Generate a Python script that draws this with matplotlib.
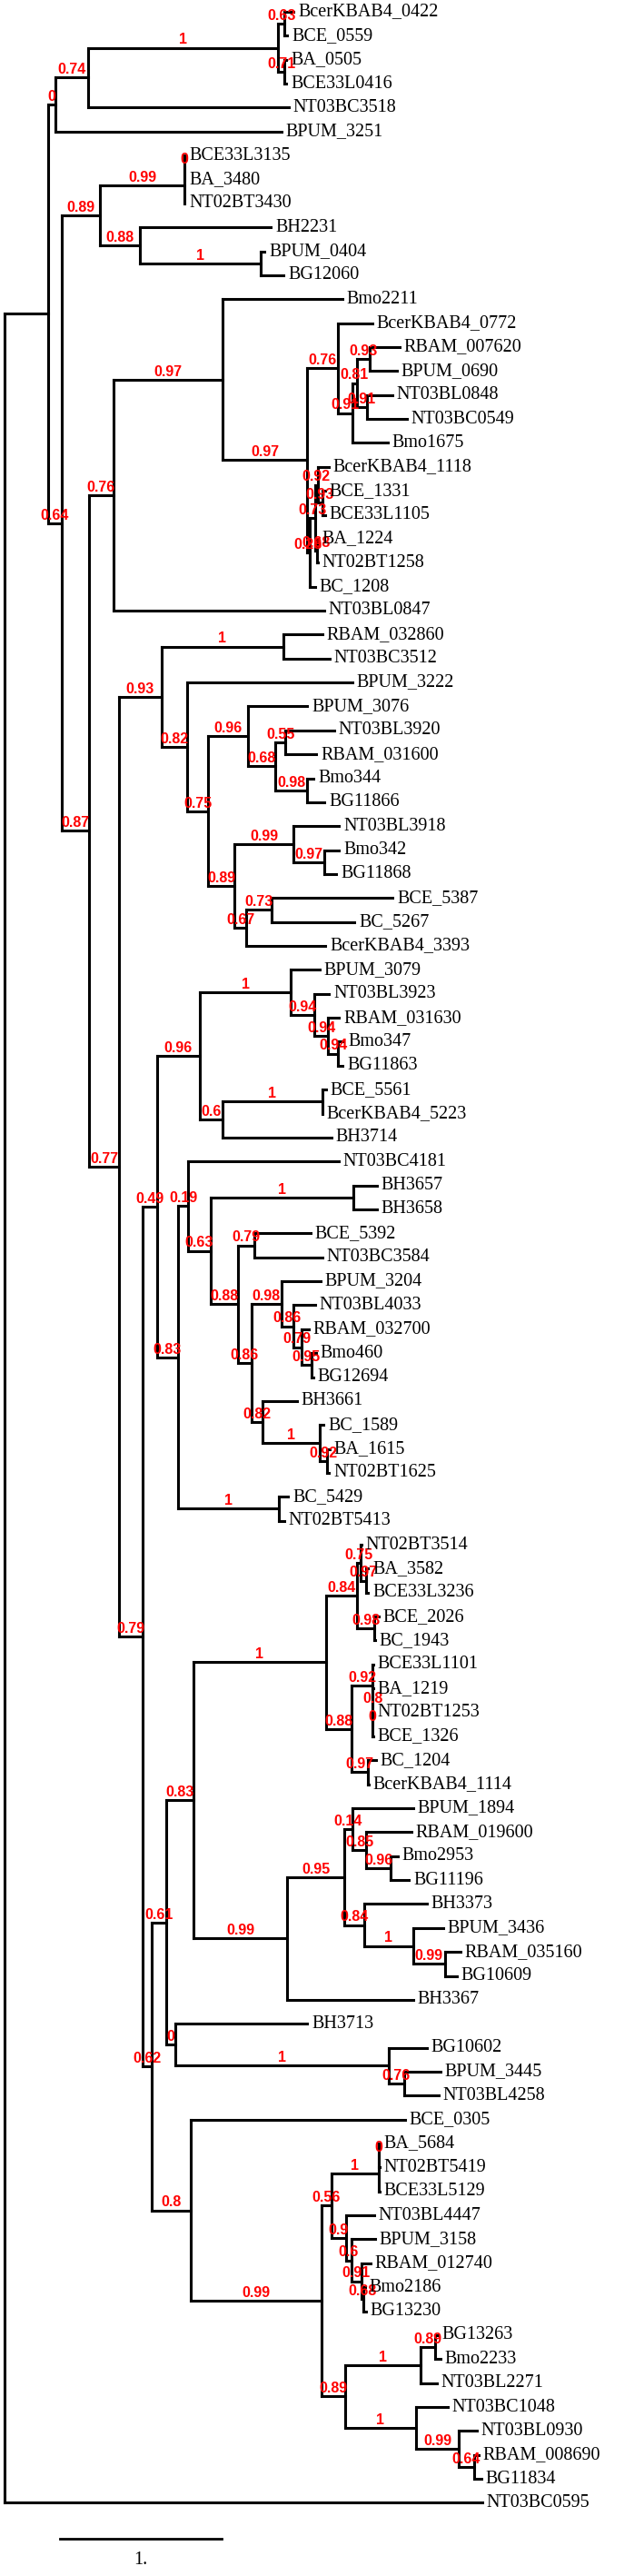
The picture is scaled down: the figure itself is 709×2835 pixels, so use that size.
import matplotlib
matplotlib.use("Agg")
import matplotlib.pyplot as plt

# clades in newick form: internal labels are support values, numbers after ':' are branch lengths
clade_top = "(((BcerKBAB4_0422:0.054,BCE_0559:0.016)0.63:0.038,(BA_0505:0.011,BCE33L0416:0.011)0.71:0.038)1:1.124,NT03BC3518:1.188)0.74:0.194"
clade_3480 = "(((BCE33L3135:0,BA_3480:0)0:0,NT02BT3430:0)0.99:0.5,(BH2231:0.774,(BPUM_0404:0.022,BG12060:0.134)1:0.715)0.88:0.237)0.89:0.226"
clade_0772 = "(BcerKBAB4_0772:0.204,(((RBAM_007620:0.177,BPUM_0690:0.161)0.93:0.075,(NT03BL0848:0.151,NT03BC0549:0.237)0.91:0.059)0.81:0.027,Bmo1675:0.210)0.91:0.086)0.76:0.183"
clade_1208 = "(((BcerKBAB4_1118:0.065,(BCE_1331:0.016,BCE33L1105:0.016)0.93:0.027)0.92:0.016,(BA_1224:0.005,NT02BT1258:0.005)0.68:0.011)0.73:0.032,BC_1208:0.032)0.28:0.016"
clade_3222 = "((RBAM_032860:0.231,NT03BC3512:0.274)1:0.720,(BPUM_3222:0.978,((BPUM_3076:0.349,((NT03BL3920:0.290,RBAM_031600:0.183)0.55:0.059,(Bmo344:0.038,BG11866:0.102)0.98:0.188)0.68:0.161)0.96:0.237,((NT03BL3918:0.269,(Bmo342:0.086,BG11868:0.070)0.97:0.183)0.99:0.349,((BCE_5387:0.715,BC_5267:0.489)0.73:0.151,BcerKBAB4_3393:0.468)0.67:0.070)0.89:0.156)0.75:0.124)0.82:0.151)0.93:0.253"
clade_3079 = "((BPUM_3079:0.172,(NT03BL3923:0.086,(RBAM_031630:0.065,(Bmo347:0.032,BG11863:0.027)0.94:0.059)0.94:0.081)0.94:0.140)1:0.538,((BCE_5561:0.022,BcerKBAB4_5223:0)1:0.591,BH3714:0.645)0.6:0.134)0.96:0.253"
clade_3204 = "((BPUM_3204:0.231,(NT03BL4033:0.129,(RBAM_032700:0.043,(Bmo460:0.027,BG12694:0.011)0.95:0.059)0.79:0.048)0.86:0.070)0.98:0.177,(BH3661:0.204,(BC_1589:0.022,(BA_1615:0.016,NT02BT1625:0.011)0.92:0.043)1:0.339)0.82:0.065)0.86:0.081"
clade_1943 = "(((NT02BT3514:0.005,(BA_3582:0.011,BCE33L3236:0.011)0.97:0.032)0.75:0.022,(BCE_2026:0.027,BC_1943:0.005)0.98:0.102)0.84:0.183,((BCE33L1101:0.005,(BA_1219:0.005,(NT02BT1253:0.005,BCE_1326:0.005)0:0)0.8:0)0.92:0.124,(BC_1204:0.048,BcerKBAB4_1114:0.005)0.97:0.097)0.88:0.151)1:0.785"
clade_1894 = "(((BPUM_1894:0.360,(RBAM_019600:0.269,(Bmo2953:0.043,BG11196:0.108)0.96:0.145)0.85:0.081)0.14:0.048,(BH3373:0.371,(BPUM_3436:0.177,(RBAM_035160:0.091,BG10609:0.070)0.99:0.188)1:0.290)0.84:0.118)0.95:0.339,BH3367:0.747)0.99:0.554"
clade_3713 = "(BH3713:0.780,(BG10602:0.226,(BPUM_3445:0.215,NT03BL4258:0.204)0.76:0.091)1:1.263)0:0.054"
clade_5684 = "((((BA_5684:0.005,NT02BT5419:0.005)0:0,BCE33L5129:0.005)1:0.280,(NT03BL4447:0.167,(BPUM_3158:0.140,(RBAM_012740:0.054,(Bmo2186:0.011,BG13230:0.016)0.68:0.011)0.91:0.059)0.6:0.032)0.9:0.086)0.56:0.059,(((BG13263:0.016,Bmo2233:0.032)0.89:0.086,NT03BL2271:0.097)1:0.446,(NT03BC1048:0.188,(NT03BL0930:0.108,(RBAM_008690:0.027,BG11834:0.043)0.64:0.091)0.99:0.253)1:0.419)0.89:0.140)0.99:0.774"

outgroup = "NT03BC0595:2.828"
scale_length = 0.957
scale_label = "1."


def join(children, tail):
    return "(" + ",".join(children) + ")" + tail


c61 = join([clade_top, "BPUM_3251:1.339"], "0:0.043")
c245 = join(["Bmo2211:0.710", join([clade_0772, clade_1208], "0.97:0.5")], "0.97:0.645")
c125 = join([c245, "NT03BL0847:1.247"], "0.76:0.145")
c207 = join(["NT03BC4181:0.892",
             join(["(BH3657:0.140,BH3658:0.140)1:0.844",
                   join(["(BCE_5392:0.333,NT03BC3584:0.403)0.79:0.097", clade_3204], "0.88:0.161")],
                  "0.63:0.134")], "0.19:0.059")
c196 = join([c207, "(BC_5429:0.054,NT02BT5413:0.032)1:0.597"], "0.83:0.124")
c173 = join([clade_3079, c196], "0.49:0.086")
c183 = join([join([clade_1943, clade_1894], "0.83:0.161"), clade_3713], "0.61:0.086")
c210 = join(["BCE_0305:1.269", clade_5684], "0.8:0.231")
c167 = join([c183, c210], "0.62:0.054")
c157 = join([c173, c167], "0.79:0.140")
c131 = join([clade_3222, c157], "0.77:0.177")
c98 = join([c125, c131], "0.87:0.161")
c68 = join([clade_3480, c98], "0.64:0.081")
c53 = join([c61, c68], ":0.258")
tree_str = join([c53, outgroup], ";")


def parse_newick(s):
    pos = 0

    def node():
        nonlocal pos
        children = []
        if s[pos] == "(":
            pos += 1
            children.append(node())
            while s[pos] == ",":
                pos += 1
                children.append(node())
            pos += 1
        start = pos
        while s[pos] not in ":,);":
            pos += 1
        label = s[start:pos]
        length = 0.0
        if s[pos] == ":":
            pos += 1
            start = pos
            while s[pos] not in ",);":
                pos += 1
            length = float(s[start:pos])
        return {"label": label, "length": length, "children": children}

    return node()


root = parse_newick(tree_str)

leaf_count = [0]


def layout(n, x):
    n["x"] = x
    if not n["children"]:
        n["y"] = leaf_count[0]
        leaf_count[0] += 1
        return
    for c in n["children"]:
        layout(c, x + c["length"])
    n["y"] = (n["children"][0]["y"] + n["children"][-1]["y"]) / 2


layout(root, 0.0)
n_leaves = leaf_count[0]

fig = plt.figure(figsize=(7.09, 28.35), dpi=100)
ax = fig.add_axes([0, 0, 1, 1])
ax.set_xlim(-5 / 186, 704 / 186)
ax.set_ylim((2835 - 13) / 26.36, -13 / 26.36)
ax.axis("off")

lw = 2.2
serif = ["Liberation Serif", "DejaVu Serif"]
sans = ["Liberation Sans", "DejaVu Sans"]


def draw(n, parent_x=None):
    if parent_x is not None:
        ax.plot([parent_x, n["x"]], [n["y"], n["y"]], color="black", lw=lw,
                solid_capstyle="projecting")
    if n["children"]:
        ys = [c["y"] for c in n["children"]]
        ax.plot([n["x"], n["x"]], [min(ys), max(ys)], color="black", lw=lw,
                solid_capstyle="projecting")
        if parent_x is not None and n["label"] != "":
            ax.annotate(n["label"], ((parent_x + n["x"]) / 2, n["y"]),
                        xytext=(0, 3), textcoords="offset points",
                        ha="center", va="baseline", color="red",
                        fontsize=11.5, fontweight="bold", family=sans)
        for c in n["children"]:
            draw(c, n["x"])
    else:
        ax.annotate(n["label"], (n["x"], n["y"]), xytext=(3.5, 0),
                    textcoords="offset points", ha="left", va="center",
                    fontsize=14.5, family=serif)


draw(root)

# scale bar
bar_x = 0.328
bar_y = n_leaves + 0.5
ax.plot([bar_x, bar_x + scale_length], [bar_y, bar_y], color="black", lw=2.0)
ax.text(bar_x + scale_length / 2, bar_y + 0.91, scale_label, ha="center",
        va="center", fontsize=14.5, family=serif)

fig.savefig("out.png", dpi=100)
